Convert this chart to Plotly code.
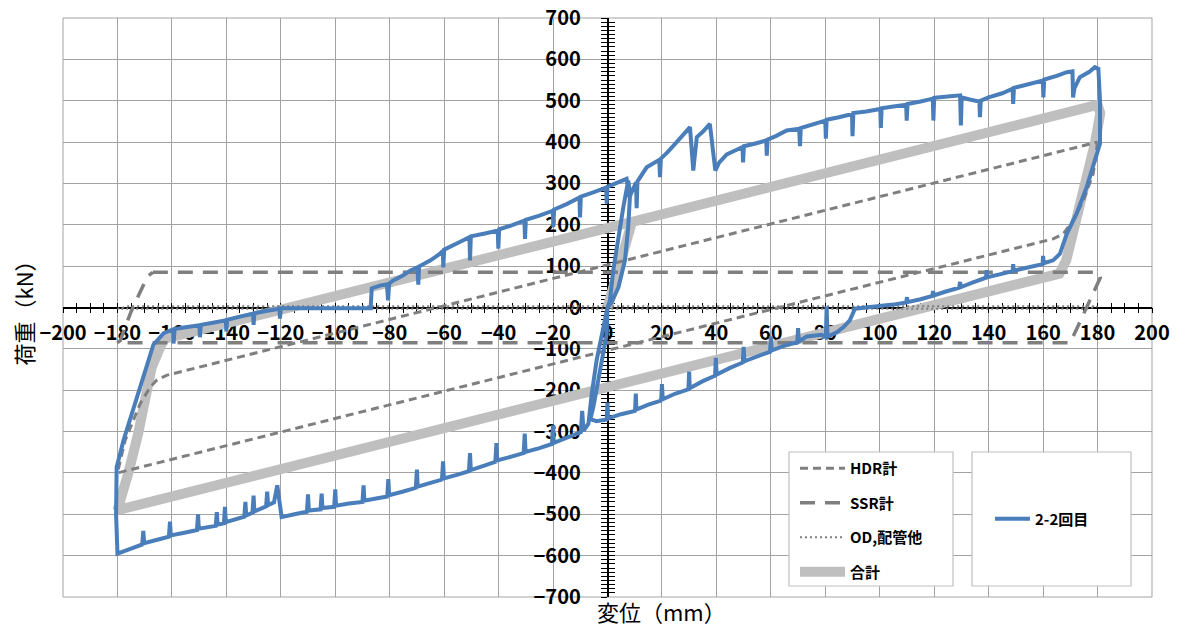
import plotly.graph_objects as go

# ---------------- data ----------------
# HDR計 (gray short-dash loop)
HDR_X = [180, 178.4, 174.8, 171, 167.4, 163.7, -180, -177.2, -171.7, -168, -165.6, -162, 180]
HDR_Y = [400, 323, 259, 210, 178, 166, -400, -322, -233, -193, -176, -164, 400]

# SSR計 (gray long-dash loop)
SSR_X = [-167, 180, 181, 176, 170, -180, -179, -175, -169, -167]
SSR_Y = [85, 85, 72, 0, -85, -85, -80, -10, 75, 85]

# OD,配管他 (gray dotted, almost on the x axis)
OD_X = [-180, -176, 180, 176, -180]
OD_Y = [-3, 3, 3, -3, -3]

# 合計 (thick light gray loop)
TOTAL_X = [0, 9, 180, 181, 179, 174, 168.5, 166, -180, -176, -172.4, -167.4, -163, 9]
TOTAL_Y = [0, 207, 490, 470, 396, 259, 114, 82, -490, -400, -305, -144, -76, 207]

# 2-2回目 (measured loop, blue) - displacement (mm) and load (kN)
BLUE_X = (
    [0, 0.9, 2.1, 4.0, 5.8, 7.6]
    + [8.3, 7.6, 6.4, 4.0, 1.5, 0]
    + [-1.5, -4.0, -5.8, -7.0]
    + [-8.8, -9.3, -9.8, -15, -19.7, -20.0, -20.4, -25, -30.1, -30.4, -30.8, -35, -40.5, -40.8, -41.2, -45, -50.2, -50.5, -50.9, -55]
    + [-60.1, -60.4, -60.8, -65, -69.7, -70.0, -70.4, -75, -80.2, -80.5, -80.9, -85, -89.3, -89.6, -90.0, -95]
    + [-99.7, -100.0, -100.4, -104.7, -105.0, -105.4, -109.7, -110.0, -110.4, -115, -119.7, -121.3, -122.5]
    + [-124.7, -125.0, -125.4, -129.7, -130.0, -130.4, -132.7, -133.0, -133.4, -140.2, -140.5, -140.9, -143.2, -143.5, -143.9]
    + [-150.1, -150.4, -150.8, -155, -160.4, -160.7, -161.1, -165, -170.2, -170.5, -170.9, -175, -180.0]
    + [-180.5, -180.3, -177.8, -174.5, -171.7, -169.0, -166.8, -163.0]
    + [-159.6, -159.4, -159.0, -155, -149.9, -149.7, -149.4, -145, -140.2, -140.0, -139.7, -135, -130.2, -130.0, -129.7, -125, -120.5, -120.3, -120.0]
    + [-110, -100, -87, -86.6, -83.6, -81.0, -80.6, -80.2, -78.8, -75, -72.5, -69.8, -69.5, -69.2]
    + [-65, -61.5, -60.5, -60.3, -60.0, -55, -50.7, -50.5, -50.2, -45, -40.3, -40.1, -39.8]
    + [-35, -30.5, -30.3, -30.0, -25, -20.1, -19.9, -19.6, -15, -10.3, -10.1, -9.8, -5, -0.5, -0.3, 0.0]
    + [3, 7.0, 8.0, 8.3, 10.5, 10.7, 11.0, 14.4, 19.0, 19.3, 19.6, 22, 25.4, 28, 30.3, 31.5, 32.8]
    + [35, 37.6, 39.6, 41, 43.8, 47, 49.6, 49.8, 50.1, 54, 58.3, 58.5, 58.8, 62, 65.8, 70.4, 70.7, 71.0]
    + [75, 80.0, 80.2, 80.5, 85, 89.8, 90.0, 90.3, 95, 100.2, 100.4, 100.7, 105, 109.7, 109.9, 110.2]
    + [115, 119.5, 119.7, 120.0, 125, 129.5, 129.8, 130.1, 133, 136.6, 136.8, 137.1, 140, 145, 148.8, 149.0, 149.3]
    + [155, 159.9, 160.1, 160.4, 165, 168.7, 170.8, 171.0, 171.5, 173.5, 177, 179, 180.3]
    + [180.9, 180.9, 179, 176, 172.3, 168.7, 166.2, 163.7]
    + [160.2, 160.0, 159.8, 155, 149.2, 149.0, 148.8, 144, 139.5, 139.3, 139.0, 134, 129.7, 129.5, 129.2, 124, 119.8, 119.6, 119.3]
    + [115, 110.2, 110.0, 109.7, 105, 100, 96, 92, 90.9, 89, 86.6, 84.2, 80.8, 80.5, 80.2]
    + [78.7, 73.2, 70.3, 70.0, 69.7, 65, 60.3, 60.0, 59.7, 55, 50.3, 50.0, 49.7]
    + [45, 40.1, 39.8, 39.5, 35, 30.2, 30.0, 29.7, 25, 20.3, 20.0, 19.7]
    + [15, 10.6, 10.4, 10.1, 5, 0.2, 0.0, -0.3, -4, -6.3]
    + [-5.2, -2.8, -0.3, 0]
)
BLUE_Y = (
    [0, 17, 89, 170, 242, 307]
    + [275, 194, 113, 49, 12, 0]
    + [-48, -128, -209, -281]
    + [-298, -250, -301, -316, -327, -285, -330, -340, -349, -305, -352, -360, -370, -328, -373, -382, -393, -352, -396, -404]
    + [-413, -372, -416, -424, -433, -392, -436, -445, -454, -415, -457, -462, -467, -430, -470, -474]
    + [-479, -440, -482, -485, -450, -488, -491, -452, -494, -500, -507, -430, -471]
    + [-478, -445, -481, -493, -455, -496, -503, -470, -506, -519, -482, -522, -525, -495, -528]
    + [-535, -500, -538, -544, -551, -518, -554, -561, -570, -540, -573, -583, -595]
    + [-500, -386, -322, -250, -193, -135, -90, -62]
    + [-53, -87, -52, -48, -43, -72, -42, -37, -31, -58, -30, -22, -15, -42, -14, -8, -3, -27, -2]
    + [-2, -2, -2, 46, 53, 56, 17, 58, 65, 78, 89, 97, 55, 99]
    + [114, 130, 137, 97, 140, 156, 170, 114, 172, 179, 186, 142, 189]
    + [199, 210, 166, 212, 222, 234, 195, 237, 250, 266, 218, 268, 279, 290, 251, 292]
    + [300, 311, 267, 270, 303, 240, 305, 339, 357, 315, 360, 375, 400, 420, 436, 331, 412]
    + [425, 444, 331, 350, 370, 380, 388, 351, 390, 396, 404, 367, 406, 415, 428, 432, 390, 434]
    + [441, 452, 408, 454, 460, 468, 414, 470, 474, 480, 434, 482, 486, 490, 452, 492]
    + [498, 505, 452, 507, 510, 513, 440, 508, 503, 498, 460, 500, 508, 518, 529, 492, 531]
    + [540, 549, 508, 551, 560, 569, 571, 508, 530, 557, 570, 581, 577]
    + [500, 396, 355, 291, 227, 178, 130, 114]
    + [107, 125, 105, 97, 89, 105, 88, 80, 73, 90, 72, 60, 49, 62, 48, 38, 29, 40, 28]
    + [20, 13, 25, 12, 7, 4, 2, 0, -3, -31, -48, -60, -71, 3, -72]
    + [-66, -70, -82, -50, -84, -92, -104, -70, -107, -118, -130, -95, -133]
    + [-146, -162, -122, -165, -178, -195, -155, -198, -208, -222, -185, -225]
    + [-235, -247, -208, -250, -258, -268, -230, -271, -275, -270]
    + [-241, -160, -64, 0]
)
assert len(BLUE_X) == len(BLUE_Y)

X_RANGE = [-200, 200]
Y_RANGE = [-700, 700]

# ---------------- figure ----------------
OFF = 8                      # page margin around the plotly div
W, H = 1179, 633
ML, MT = 55, 10
PW, PH = 1089, 579
MR, MB = W - ML - PW, H - MT - PH
FONT = "Noto Sans CJK JP"
GRID = "#a3a3a3"
GRAY = "#7f7f7f"
BLUE = "#4a7ebb"


def px(v):   # page pixel x -> paper x
    return (v - OFF - ML) / PW


def py(v):   # page pixel y -> paper y
    return (H - MB - (v - OFF)) / PH


fig = go.Figure()

fig.add_trace(go.Scatter(x=TOTAL_X, y=TOTAL_Y, mode="lines", name="合計",
                         line=dict(color="#bfbfbf", width=10),
                         legend="legend", legendrank=4, legendgroup="g4"))
fig.add_trace(go.Scatter(x=HDR_X, y=HDR_Y, mode="lines", name="HDR計",
                         line=dict(color=GRAY, width=3, dash="8px,5px"),
                         legend="legend", legendrank=1, legendgroup="g1"))
fig.add_trace(go.Scatter(x=SSR_X, y=SSR_Y, mode="lines", name="SSR計",
                         line=dict(color=GRAY, width=3.5, dash="15px,10px"),
                         legend="legend", legendrank=2, legendgroup="g2"))
fig.add_trace(go.Scatter(x=OD_X, y=OD_Y, mode="lines", name="OD,配管他",
                         line=dict(color=GRAY, width=2, dash="2px,3px"),
                         legend="legend", legendrank=3, legendgroup="g3"))
fig.add_trace(go.Scatter(x=BLUE_X, y=BLUE_Y, mode="lines", name="2-2回目",
                         line=dict(color=BLUE, width=4),
                         legend="legend2"))
# empty trace to carry the overlay axes (inner halves of the crossing ticks)
fig.add_trace(go.Scatter(x=[], y=[], xaxis="x2", yaxis="y2", showlegend=False,
                         hoverinfo="skip"))

tickfont = dict(family=FONT, size=20, color="black", weight="bold")

fig.update_layout(
    width=W, height=H,
    margin=dict(l=ML, r=MR, t=MT, b=MB, autoexpand=False),
    paper_bgcolor="white", plot_bgcolor="white",
    font=dict(family=FONT, size=15, color="black"),
    xaxis=dict(range=X_RANGE, tick0=0, dtick=20, showgrid=True, gridcolor=GRID,
               gridwidth=1, zeroline=False, showline=True, linecolor="black",
               linewidth=1.5, anchor="free", position=0.5, ticks="outside",
               ticklen=5, tickwidth=1, tickcolor="black", tickfont=tickfont,
               ticklabelstandoff=3, ticklabeloverflow="allow", layer="below traces",
               minor=dict(dtick=5, ticks="outside", ticklen=5, tickwidth=1,
                          tickcolor="black", showgrid=False)),
    yaxis=dict(range=Y_RANGE, tick0=0, dtick=100, showgrid=True, gridcolor=GRID,
               gridwidth=1, zeroline=False, showline=True, linecolor="black",
               linewidth=1.5, anchor="free", position=0.5, ticks="outside",
               ticklen=6, tickwidth=1, tickcolor="black", tickfont=tickfont,
               ticklabelstandoff=16, ticklabeloverflow="allow", layer="below traces",
               minor=dict(dtick=10, ticks="outside", ticklen=6, tickwidth=1,
                          tickcolor="black", showgrid=False)),
    xaxis2=dict(range=X_RANGE, overlaying="x", anchor="free", position=0.5,
                tick0=0, dtick=20, ticks="inside", ticklen=5, tickcolor="black",
                showticklabels=False, showgrid=False, zeroline=False, showline=False,
                layer="below traces",
                minor=dict(dtick=5, ticks="inside", ticklen=5, tickcolor="black",
                           showgrid=False)),
    yaxis2=dict(range=Y_RANGE, overlaying="y", anchor="free", position=0.5,
                tick0=0, dtick=100, ticks="inside", ticklen=6, tickcolor="black",
                showticklabels=False, showgrid=False, zeroline=False, showline=False,
                layer="below traces",
                minor=dict(dtick=10, ticks="inside", ticklen=6, tickcolor="black",
                           showgrid=False)),
    legend=dict(x=px(795), y=py(452), xanchor="left", yanchor="top",
                bgcolor="rgba(0,0,0,0)", borderwidth=0, itemwidth=45,
                tracegroupgap=12,
                font=dict(family=FONT, size=15, color="black", weight="bold")),
    legend2=dict(x=px(990), y=py(519), xanchor="left", yanchor="middle",
                 bgcolor="rgba(0,0,0,0)", borderwidth=0, itemwidth=35,
                 font=dict(family=FONT, size=15, color="black", weight="bold")),
    shapes=[
        dict(type="rect", xref="paper", yref="paper", x0=0, x1=1, y0=0, y1=1,
             line=dict(color=GRID, width=1), layer="below"),
        dict(type="rect", xref="paper", yref="paper",
             x0=px(789), x1=px(953), y0=py(586), y1=py(452),
             line=dict(color="#bfbfbf", width=1.2), fillcolor="white", layer="above"),
        dict(type="rect", xref="paper", yref="paper",
             x0=px(972), x1=px(1131), y0=py(586), y1=py(452),
             line=dict(color="#bfbfbf", width=1.2), fillcolor="white", layer="above"),
    ],
    annotations=[
        dict(text="荷重（kN）", xref="paper", yref="paper",
             x=px(22), y=0.5, textangle=-90, showarrow=False,
             xanchor="center", yanchor="middle",
             font=dict(family=FONT, size=22, color="black")),
        dict(text="変位（mm）", xref="paper", yref="paper",
             x=px(661), y=py(611), showarrow=False,
             xanchor="center", yanchor="middle",
             font=dict(family=FONT, size=22, color="black")),
    ],
)

fig.write_html("out.html")
